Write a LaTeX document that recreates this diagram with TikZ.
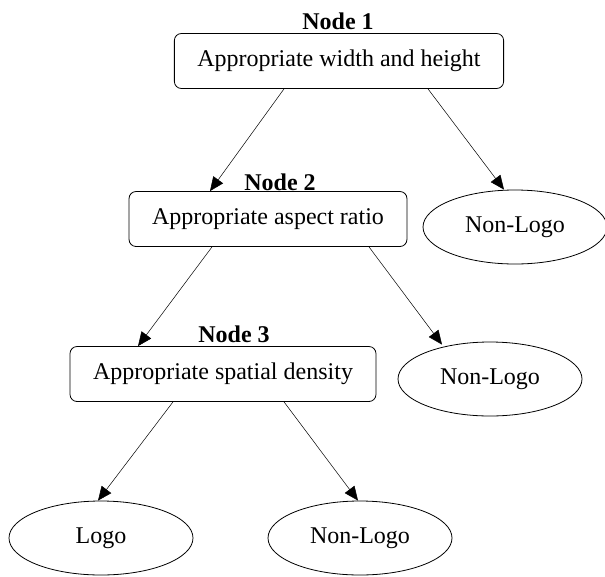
\documentclass[tikz,border=0pt]{standalone}
\usepackage{fontspec}
\setmainfont{Liberation Serif}
\usepackage{tikz}
\usetikzlibrary{shapes.geometric,arrows.meta}
\tikzset{testbox/.style={draw, line width=0.8pt, rounded corners=7pt, inner xsep=23pt, minimum height=55pt, font=\fontsize{24}{28}\selectfont},
    leaf/.style={draw, ellipse, line width=0.8pt, inner sep=0pt, minimum width=184pt, minimum height=74pt, font=\fontsize{24}{28}\selectfont},
    nodelabel/.style={inner sep=0pt, font=\fontsize{24}{28}\selectfont\bfseries},
    edge/.style={line width=0.5pt, -{Triangle[length=14pt,width=12pt]}}
}

\begin{document}
\begin{tikzpicture}[x=1pt,y=-1pt]
		\useasboundingbox (0,0) rectangle (605,576);
		% tests
		\node[testbox] (box1) at (339,61) {Appropriate width and height};
		\node[testbox] (box2) at (268,219) {Appropriate aspect ratio};
		\node[testbox] (box3) at (223,374) {Appropriate spatial density};
		\node[nodelabel] (lab1) at (338,21) {Node 1};
		\node[nodelabel] (lab2) at (280,182) {Node 2};
		\node[nodelabel] (lab3) at (234,334) {Node 3};
		% leaves
		\node[leaf] (nonlogo1) at (515,227) {Non-Logo};
		\node[leaf] (nonlogo2) at (490,379) {Non-Logo};
		\node[leaf] (logo) at (101,538) {Logo};
		\node[leaf] (nonlogo3) at (360,538) {Non-Logo};
		% edges
		\draw[edge] ([xshift=-55pt]box1.south) -- ([xshift=-58pt]box2.north);
		\draw[edge] ([xshift=89pt]box1.south) -- ([xshift=-11pt]nonlogo1.north);
		\draw[edge] ([xshift=-56pt]box2.south) -- ([xshift=-85pt]box3.north);
		\draw[edge] ([xshift=101pt]box2.south) -- ([xshift=-48pt,yshift=-3pt]nonlogo2.north);
		\draw[edge] ([xshift=-50pt]box3.south) -- ([xshift=-3pt]logo.north);
		\draw[edge] ([xshift=61pt]box3.south) -- ([xshift=-2pt]nonlogo3.north);
\end{tikzpicture}
\end{document}
